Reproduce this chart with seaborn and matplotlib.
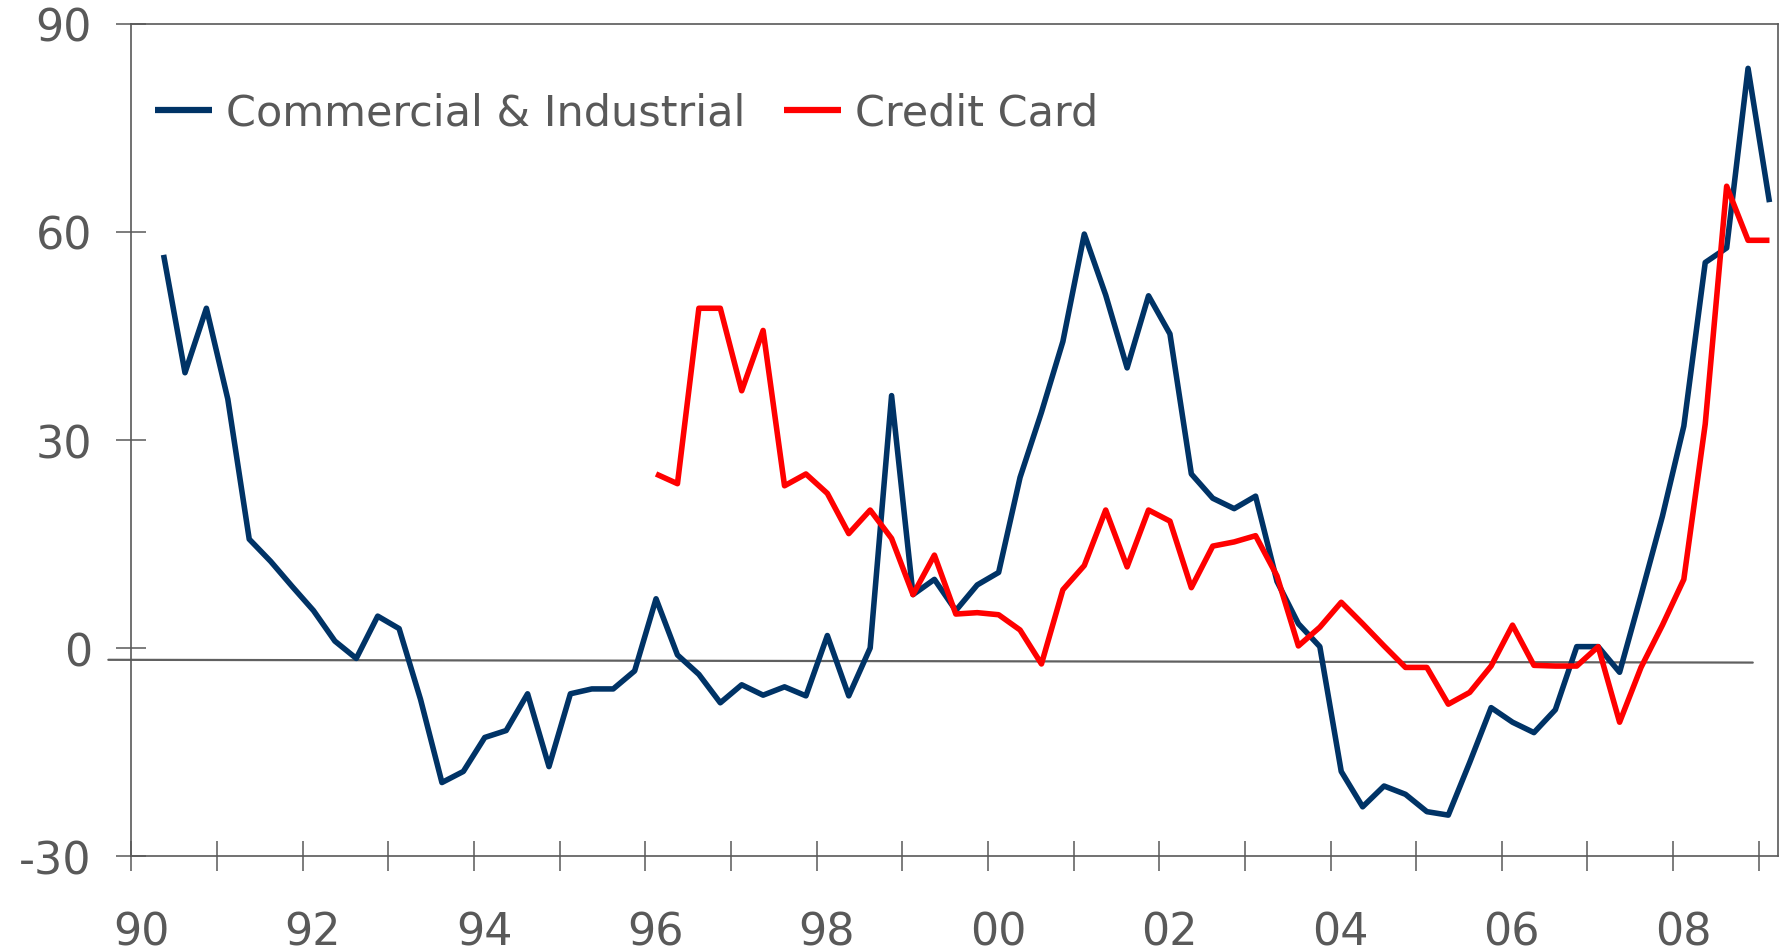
import pandas as pd
import matplotlib.pyplot as plt
import matplotlib.transforms as mtransforms
import seaborn as sns


# ----------------------------------------
# Data (quarterly)
# ----------------------------------------
ci_quarters = pd.period_range("1990Q2", "2009Q1", freq="Q")
ci_values = [
    56.7, 39.7, 49.0, 35.9, 15.7, 12.5, 8.9, 5.4, 1.0, -1.5,
    4.6, 2.8, -7.4, -19.4, -17.8, -12.9, -11.9, -6.6, -17.1, -6.6,
    -5.9, -5.9, -3.3, 7.1, -1.0, -3.8, -7.9, -5.3, -6.8, -5.6,
    -6.9, 1.8, -6.9, 0.0, 36.4, 7.7, 9.9, 5.4, 9.1, 10.9,
    24.6, 34.0, 44.2, 59.7, 50.9, 40.4, 50.8, 45.3, 25.1, 21.6,
    20.1, 21.9, 9.6, 3.5, 0.2, -17.8, -22.9, -19.9, -21.1, -23.6,
    -24.1, -16.5, -8.6, -10.7, -12.2, -8.9, 0.2, 0.2, -3.5, 7.6,
    19.0, 32.0, 55.6, 57.7, 83.6, 64.3,
]

cc_quarters = pd.period_range("1996Q1", "2009Q1", freq="Q")
cc_values = [
    25.1, 23.7, 49.0, 49.0, 37.1, 45.8, 23.4, 25.1, 22.3, 16.5,
    19.9, 15.8, 7.7, 13.4, 4.9, 5.1, 4.8, 2.6, -2.3, 8.4,
    11.9, 19.9, 11.7, 19.9, 18.3, 8.7, 14.7, 15.3, 16.2, 10.4,
    0.3, 3.0, 6.6, 3.5, 0.3, -2.8, -2.8, -8.1, -6.4, -2.6,
    3.3, -2.5, -2.6, -2.6, 0.2, -10.7, -2.8, 3.3, 9.9, 32.3,
    66.6, 58.8, 58.8,
]

series_names = ["Commercial & Industrial", "Credit Card"]
series_colors = ["#003366", "#ff0000"]

year_ticks = list(range(1990, 2010))
year_labels = [f"{y % 100:02d}" if y % 2 == 0 else "" for y in year_ticks]
y_ticks = [-30, 0, 30, 60, 90]

# slightly tilted zero reference line, as drawn in the original
zero_line_x = [1989.73, 2008.93]
zero_line_y = [-1.7, -2.1]


def quarter_mid(q):
    return q.year + (q.quarter - 0.5) / 4


df = pd.concat([
    pd.DataFrame({"date": [quarter_mid(q) for q in ci_quarters],
                  "value": ci_values, "series": series_names[0]}),
    pd.DataFrame({"date": [quarter_mid(q) for q in cc_quarters],
                  "value": cc_values, "series": series_names[1]}),
], ignore_index=True)

# ----------------------------------------
# Plot
# ----------------------------------------
sns.set_style("white")
plt.rcParams["font.family"] = ["DejaVu Sans"]
plt.rcParams["axes.unicode_minus"] = False

grey = "#595959"
fig, ax = plt.subplots(figsize=(17.91, 9.53), dpi=100)
fig.subplots_adjust(left=0.0734, right=0.9930, top=0.9738, bottom=0.1007)

ax.plot(zero_line_x, zero_line_y, color="#606060", linewidth=1.6,
        clip_on=False, zorder=1)

sns.lineplot(data=df, x="date", y="value", hue="series",
             palette=dict(zip(series_names, series_colors)),
             estimator=None, sort=False, ax=ax, zorder=3)
for line in ax.lines[1:]:
    line.set_linewidth(4.0)
    line.set_solid_capstyle("butt")

ax.set_xlim(1990, 2009.23)
ax.set_ylim(-30, 90)
ax.set_xticks(year_ticks)
ax.set_xticklabels(year_labels)
ax.set_yticks(y_ticks)
ax.set_xlabel("")
ax.set_ylabel("")

for side in ["left", "right", "top", "bottom"]:
    ax.spines[side].set_visible(True)
    ax.spines[side].set_color(grey)
    ax.spines[side].set_linewidth(1.2)

ax.tick_params(axis="both", direction="inout", length=21, width=1.1,
               color=grey, labelcolor=grey, labelsize=32,
               bottom=True, left=True)
ax.tick_params(axis="x", pad=29)
ax.tick_params(axis="y", pad=18)

# shift the year labels a touch right of their tick
shift = mtransforms.ScaledTranslation(0.10, 0, fig.dpi_scale_trans)
for lab in ax.get_xticklabels():
    lab.set_transform(lab.get_transform() + shift)

handles, labels = ax.get_legend_handles_labels()
leg = ax.legend(handles, labels, loc="center left",
                bbox_to_anchor=(0.014, 0.893), ncol=2, frameon=False,
                fontsize=31, handlelength=1.33, handletextpad=0.32,
                columnspacing=0.9, borderpad=0, borderaxespad=0,
                labelcolor=grey)
for h in leg.get_lines():
    h.set_linewidth(4.5)
    h.set_solid_capstyle("butt")

fig.savefig("out.png", dpi=100)
